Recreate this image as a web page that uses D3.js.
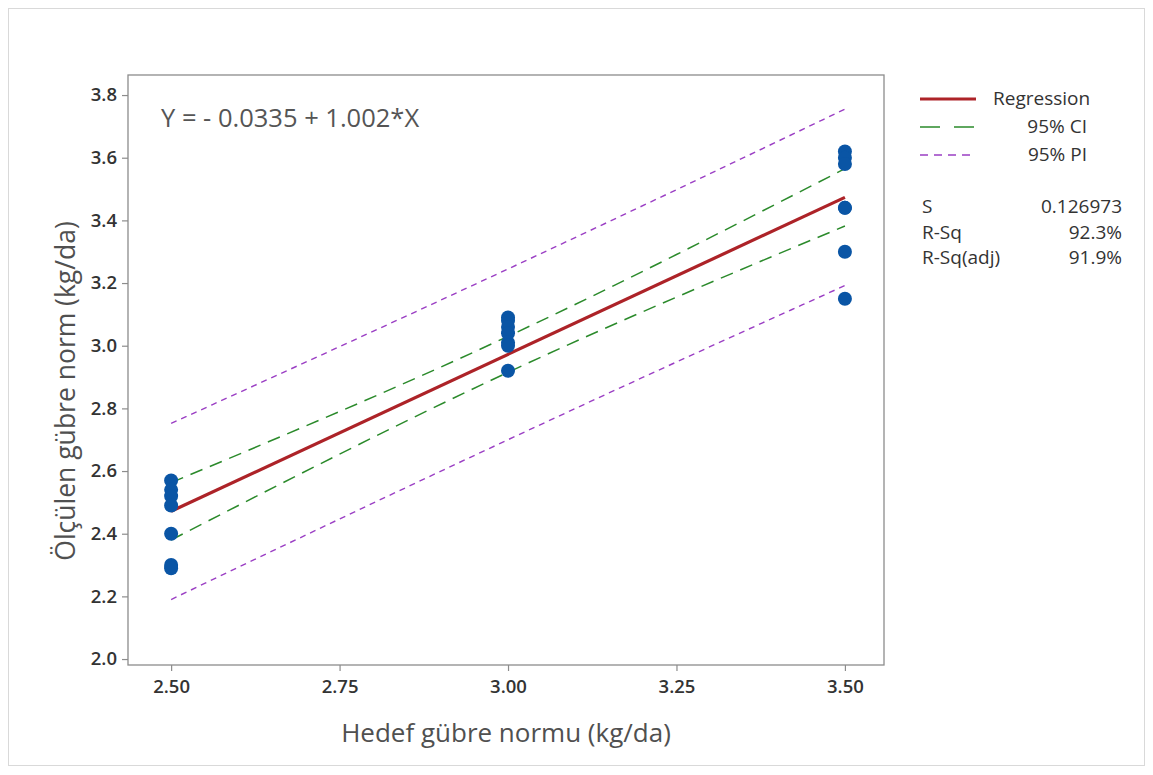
<!DOCTYPE html>
<html>
<head>
<meta charset="utf-8">
<script src="https://cdn.jsdelivr.net/npm/d3@7"></script>
<style>
  html, body { margin: 0; padding: 0; background: #fff; }
  svg { display: block; font-family: "Open Sans", "Noto Sans", sans-serif; }
</style>
</head>
<body>
<svg id="chart" width="1153" height="775"></svg>
<script>
// Observations: target rate (x) vs measured rate (y)
const targetX = [2.5, 2.5, 2.5, 2.5, 2.5, 2.5, 2.5,
                 3.0, 3.0, 3.0, 3.0, 3.0, 3.0, 3.0,
                 3.5, 3.5, 3.5, 3.5, 3.5, 3.5, 3.5];
const measuredY = [2.57, 2.54, 2.52, 2.49, 2.40, 2.30, 2.29,
                   3.09, 3.08, 3.06, 3.04, 3.01, 3.00, 2.92,
                   3.62, 3.60, 3.58, 3.44, 3.44, 3.30, 3.15];

// Fitted line coefficients
const intercept = -0.0335;
const slope = 1.002;

// Confidence and prediction bands at the grid points
const bandX = [2.5, 2.75, 3.0, 3.25, 3.5];
const ciLower = [2.380, 2.654, 2.915, 3.155, 3.382];
const ciUpper = [2.563, 2.790, 3.030, 3.291, 3.565];
const piLower = [2.190, 2.447, 2.700, 2.948, 3.192];
const piUpper = [2.752, 2.997, 3.245, 3.498, 3.755];

const xTicks = [2.50, 2.75, 3.00, 3.25, 3.50];
const yTicks = [2.0, 2.2, 2.4, 2.6, 2.8, 3.0, 3.2, 3.4, 3.6, 3.8];

const statLabels = ["S", "R-Sq", "R-Sq(adj)"];
const statValues = ["0.126973", "92.3%", "91.9%"];

const svg = d3.select("#chart");

// outer page frame
svg.append("rect")
  .attr("x", 8.5).attr("y", 8.5).attr("width", 1136).attr("height", 757)
  .attr("fill", "#fff").attr("stroke", "#d9d9d9").attr("stroke-width", 1);

const plot = { left: 128, right: 884, top: 75, bottom: 665 };

const x = d3.scaleLinear().domain([2.436, 3.558]).range([plot.left, plot.right]);
const y = d3.scaleLinear().domain([1.981, 3.864]).range([plot.bottom, plot.top]);

// data region frame
svg.append("rect")
  .attr("x", plot.left).attr("y", plot.top)
  .attr("width", plot.right - plot.left).attr("height", plot.bottom - plot.top)
  .attr("fill", "#fff").attr("stroke", "#8c8c8c").attr("stroke-width", 1.3);

// axes
const xAxis = d3.axisBottom(x).tickValues(xTicks).tickFormat(d3.format(".2f")).tickSize(6).tickPadding(9);
const yAxis = d3.axisLeft(y).tickValues(yTicks).tickFormat(d3.format(".1f")).tickSize(6).tickPadding(5);

const gx = svg.append("g").attr("transform", `translate(0,${plot.bottom})`).call(xAxis);
const gy = svg.append("g").attr("transform", `translate(${plot.left},0)`).call(yAxis);
[gx, gy].forEach(g => {
  g.select(".domain").remove();
  g.selectAll(".tick line").attr("stroke", "#8c8c8c").attr("stroke-width", 1.2);
  g.selectAll(".tick text")
    .attr("fill", "#333").attr("font-size", 18.5).attr("font-weight", 600)
    .attr("font-family", "'Open Sans', 'Noto Sans', sans-serif");
});

// axis titles
svg.append("text")
  .attr("x", (plot.left + plot.right) / 2).attr("y", 742)
  .attr("text-anchor", "middle").attr("font-size", 26).attr("fill", "#505050")
  .text("Hedef gübre normu (kg/da)");
svg.append("text")
  .attr("transform", `translate(75,391) rotate(-90)`)
  .attr("text-anchor", "middle").attr("font-size", 26.5).attr("fill", "#505050")
  .text("Ölçülen gübre norm (kg/da)");

svg.append("defs").append("clipPath").attr("id", "plot-clip")
  .append("rect").attr("x", plot.left).attr("y", plot.top)
  .attr("width", plot.right - plot.left).attr("height", plot.bottom - plot.top);

const layer = svg.append("g").attr("clip-path", "url(#plot-clip)");

const band = d3.line().x(d => x(d[0])).y(d => y(d[1])).curve(d3.curveNatural);

function drawBand(values, color, dash, width) {
  layer.append("path")
    .datum(bandX.map((v, i) => [v, values[i]]))
    .attr("d", band).attr("fill", "none")
    .attr("stroke", color).attr("stroke-width", width)
    .attr("stroke-dasharray", dash);
}

const piColor = "#9b3fc4";
const ciColor = "#2b8a2b";
const regColor = "#ad2328";

drawBand(piUpper, piColor, "6,5", 1.4);
drawBand(piLower, piColor, "6,5", 1.4);
drawBand(ciUpper, ciColor, "13,8", 1.5);
drawBand(ciLower, ciColor, "13,8", 1.5);

// regression line
const xr = d3.extent(targetX);
layer.append("line")
  .attr("x1", x(xr[0])).attr("y1", y(intercept + slope * xr[0]))
  .attr("x2", x(xr[1])).attr("y2", y(intercept + slope * xr[1]))
  .attr("stroke", regColor).attr("stroke-width", 3.2);

// observations
layer.selectAll("circle.obs")
  .data(targetX.map((v, i) => [v, measuredY[i]]))
  .join("circle").attr("class", "obs")
  .attr("cx", d => x(d[0])).attr("cy", d => y(d[1])).attr("r", 7)
  .attr("fill", "#0a55a5");

// fitted equation
svg.append("text")
  .attr("x", 161).attr("y", 127)
  .attr("font-size", 25.5).attr("fill", "#555")
  .text(`Y = - ${Math.abs(intercept).toFixed(4)} + ${slope.toFixed(3)}*X`);

// legend
const legend = [
  { label: "Regression", color: regColor, dash: null, width: 3.2, anchor: "start", tx: 993 },
  { label: "95% CI", color: ciColor, dash: "20,14", width: 1.5, anchor: "end", tx: 1087 },
  { label: "95% PI", color: piColor, dash: "8,6", width: 1.4, anchor: "end", tx: 1087 }
];
legend.forEach((d, i) => {
  const ly = 99 + i * 28;
  svg.append("line")
    .attr("x1", 920).attr("x2", 976).attr("y1", ly).attr("y2", ly)
    .attr("stroke", d.color).attr("stroke-width", d.width)
    .attr("stroke-dasharray", d.dash);
  svg.append("text")
    .attr("x", d.tx).attr("y", ly + 6).attr("text-anchor", d.anchor)
    .attr("font-size", 19).attr("fill", "#333").text(d.label);
});

statLabels.forEach((s, i) => {
  const ly = 213 + i * 25.5;
  svg.append("text").attr("x", 922).attr("y", ly)
    .attr("font-size", 19).attr("fill", "#333").text(s);
  svg.append("text").attr("x", 1122).attr("y", ly).attr("text-anchor", "end")
    .attr("font-size", 19).attr("fill", "#333").text(statValues[i]);
});
</script>
</body>
</html>
